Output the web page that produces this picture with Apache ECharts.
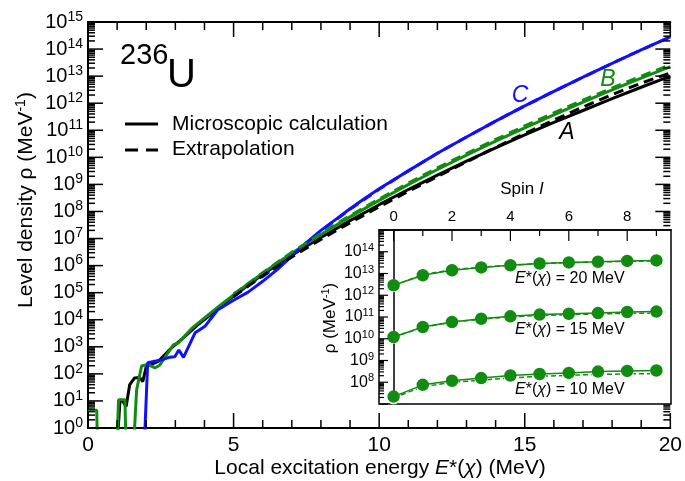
<!DOCTYPE html>
<html>
<head>
<meta charset="utf-8">
<script src="https://cdn.jsdelivr.net/npm/echarts@6/dist/echarts.min.js"></script>
<style>
  html, body { margin: 0; padding: 0; background: #fff; }
  #chart { width: 685px; height: 481px; }
</style>
</head>
<body>
<div id="chart"></div>
<script>
// main panel: log10 of level density vs local excitation energy (MeV)
const energyA = [0.98, 1.1, 1.2, 1.31, 1.43, 1.6, 1.77, 1.88, 2.0, 2.4, 2.86, 3.32, 3.77, 4.23, 4.5, 5, 5.5, 6, 6.5, 7, 7.5, 8, 9, 10, 11, 12, 13, 14, 15, 16, 17, 18, 19, 20]
const logRhoA = [-1, 1.04, 0.98, 0.79, 1.59, 1.85, 1.87, 1.71, 2.27, 2.45, 2.95, 3.38, 3.81, 4.2, 4.45, 4.87, 5.28, 5.67, 6.03, 6.38, 6.72, 7.04, 7.66, 8.25, 8.81, 9.34, 9.86, 10.35, 10.83, 11.29, 11.73, 12.17, 12.59, 13.0]
const energyAExtrap = [5, 6, 7, 8, 9, 10, 11, 12, 13, 14, 15, 16, 17, 18, 19, 20]
const logRhoAExtrap = [4.85, 5.63, 6.32, 6.97, 7.58, 8.17, 8.74, 9.29, 9.83, 10.37, 10.88, 11.38, 11.86, 12.32, 12.74, 13.12]

const energyB = [0, 0.3, 0.33, 0.98, 1.05, 1.27, 1.31, 1.55, 1.67, 1.84, 2.05, 2.3, 2.47, 2.93, 3.1, 3.56, 4.13, 4.5, 5, 5.5, 6, 6.5, 7, 7.5, 8, 9, 10, 11, 12, 13, 14, 15, 16, 17, 18, 19, 20]
const logRhoB = [0.66, 0.66, -1, -1, 1.04, 1.04, -1, -1, 1.41, 2.29, 2.35, 2.22, 2.33, 3.07, 3.14, 3.68, 4.18, 4.5, 4.92, 5.33, 5.72, 6.1, 6.46, 6.81, 7.15, 7.8, 8.41, 8.99, 9.55, 10.08, 10.6, 11.09, 11.57, 12.04, 12.49, 12.93, 13.35]
const energyBExtrap = [5, 6, 7, 8, 9, 10, 11, 12, 13, 14, 15, 16, 17, 18, 19, 20]
const logRhoBExtrap = [4.93, 5.74, 6.49, 7.19, 7.85, 8.46, 9.05, 9.61, 10.14, 10.66, 11.16, 11.64, 12.11, 12.56, 13.0, 13.42]

const energyC = [1.92, 2.05, 2.5, 2.79, 2.98, 3.12, 3.28, 3.68, 4.03, 4.45, 5, 5.5, 6, 6.5, 7, 7.5, 8, 8.5, 9, 9.5, 10, 11, 12, 13, 14, 15, 16, 17, 18, 19, 20]
const logRhoC = [-1, 2.41, 2.51, 2.61, 2.63, 2.88, 2.61, 3.52, 3.77, 4.36, 4.72, 5.02, 5.42, 5.85, 6.36, 6.85, 7.3, 7.7, 8.1, 8.48, 8.84, 9.5, 10.15, 10.75, 11.34, 11.9, 12.44, 12.96, 13.47, 13.97, 14.45]
const energyCExtrap = [5, 6, 7, 8, 9, 10, 11, 12, 13, 14, 15, 16, 17, 18, 19, 20]
const logRhoCExtrap = [4.95, 5.6, 6.38, 7.28, 8.08, 8.82, 9.5, 10.15, 10.75, 11.34, 11.9, 12.44, 12.96, 13.47, 13.97, 14.45]

// inset: log10 rho vs spin at fixed E*(chi)
const spin = [0, 1, 2, 3, 4, 5, 6, 7, 8, 9]
const logRho20 = [12.46, 12.92, 13.15, 13.28, 13.38, 13.46, 13.51, 13.54, 13.58, 13.6]
const logRho20Extrap = [12.44, 12.95, 13.17, 13.29, 13.38, 13.45, 13.5, 13.53, 13.56, 13.58]
const logRho15 = [10.08, 10.54, 10.77, 10.92, 11.03, 11.11, 11.15, 11.18, 11.23, 11.25]
const logRho15Extrap = [10.07, 10.53, 10.76, 10.9, 11.0, 11.07, 11.11, 11.14, 11.17, 11.18]
const logRho10 = [7.34, 7.88, 8.07, 8.19, 8.31, 8.38, 8.43, 8.49, 8.52, 8.54]
const logRho10Extrap = [7.28, 7.8, 7.99, 8.1, 8.2, 8.27, 8.32, 8.36, 8.38, 8.4]

// tick values
const mainDecades = [0, 1, 2, 3, 4, 5, 6, 7, 8, 9, 10, 11, 12, 13, 14, 15]
const insetDecades = [7, 8, 9, 10, 11, 12, 13, 14, 15]
const insetLabelDecades = [8, 9, 10, 11, 12, 13, 14]
const energyTicks = [0, 5, 10, 15, 20]
const energyMinor = [1, 2, 3, 4, 6, 7, 8, 9, 11, 12, 13, 14, 16, 17, 18, 19]
const spinLabels = [0, 2, 4, 6, 8]
const spinMinor = [1, 3, 5, 7, 9]

const FONT = 'Liberation Sans'
const GREEN = '#118c11'
const BLUE = '#1010ff'

const pow10 = d => Math.pow(10, d)
const minorOf = decs => {
  const out = []
  decs.slice(0, -1).forEach(d => { for (let m = 2; m <= 9; m++) out.push(m * pow10(d)) })
  return out
}
const pairs = (xs, ls) => xs.map((x, i) => [x, pow10(ls[i])])

const supLabel = (bSize, eSize, lift) => ({
  formatter: v => '{b|10}{e|' + Math.round(Math.log10(v)) + '}',
  rich: {
    b: { fontSize: bSize, fontFamily: FONT, color: '#000', lineHeight: bSize },
    e: { fontSize: eSize, fontFamily: FONT, color: '#000', padding: [0, 0, lift, 0] }
  }
})

const mainMajor = mainDecades.map(pow10)
const mainMinor = minorOf(mainDecades)
const insetMajor = insetDecades.map(pow10)
const insetMinor = minorOf(insetDecades)

const mainLine = (data, color, dashed) => ({
  type: 'line', xAxisIndex: 0, yAxisIndex: 0, data: data, showSymbol: false, symbol: 'none',
  clip: true, z: 2, animation: false,
  lineStyle: { color: color, width: 3, type: dashed ? [10, 6] : 'solid' }
})
const insetLine = (data, filled) => ({
  type: 'line', xAxisIndex: 2, yAxisIndex: 2, data: data, z: filled ? 7 : 6, animation: false,
  symbol: filled ? 'circle' : 'emptyCircle', symbolSize: 11, showSymbol: true,
  itemStyle: { color: filled ? GREEN : '#fff', borderColor: GREEN, borderWidth: 1.5 },
  lineStyle: { color: GREEN, width: 1.5, type: filled ? 'solid' : [5, 3] }
})

const txt = (x, y, text, size, extra) => ({
  type: 'text', x: x, y: y, z: 20,
  style: Object.assign({ text: text, fontSize: size, fontFamily: FONT, fill: '#000', align: 'left', verticalAlign: 'middle',
    rich: { i: { fontStyle: 'italic', fontSize: size, fontFamily: FONT }, s: { fontSize: Math.round(size * 0.65), fontFamily: FONT, padding: [0, 0, Math.round(size * 0.45), 0] } } }, extra || {})
})

const chart = echarts.init(document.getElementById('chart'))
chart.setOption({
  animation: false,
  backgroundColor: '#fff',
  grid: [
    { left: 88, right: 14, top: 22, bottom: 53 },
    { left: 379, right: 14, top: 230, bottom: 77, show: true, borderColor: '#000', borderWidth: 1.5, backgroundColor: '#fff', z: 3 }
  ],
  xAxis: [
    { type: 'value', gridIndex: 0, position: 'bottom', min: 0, max: 20, interval: 5,
      axisLine: { show: true, onZero: false, lineStyle: { color: '#000', width: 2 } }, axisTick: { show: false },
      axisLabel: { fontSize: 21, fontFamily: FONT, color: '#000', margin: 7 }, splitLine: { show: false } },
    { type: 'value', gridIndex: 0, position: 'top', min: 0, max: 20, interval: 5,
      axisLine: { show: true, onZero: false, lineStyle: { color: '#000', width: 2 } }, axisTick: { show: false },
      axisLabel: { show: false }, splitLine: { show: false } },
    { type: 'value', gridIndex: 1, position: 'top', min: -0.5, max: 9.5, z: 4,
      axisLine: { show: true, onZero: false, lineStyle: { color: '#000', width: 1.5 } }, axisTick: { show: false },
      axisLabel: { customValues: spinLabels, fontSize: 15, fontFamily: FONT, color: '#000', margin: 6 }, splitLine: { show: false } }
  ],
  yAxis: [
    { type: 'log', logBase: 10, gridIndex: 0, position: 'left', min: 0.9999, max: 1.0001e15,
      axisLine: { show: true, lineStyle: { color: '#000', width: 2 } }, axisTick: { show: false },
      axisLabel: Object.assign({ customValues: mainMajor, margin: 5, showMinLabel: true, showMaxLabel: true }, supLabel(20, 14, 10)),
      splitLine: { show: false } },
    { type: 'log', logBase: 10, gridIndex: 0, position: 'right', min: 0.9999, max: 1.0001e15,
      axisLine: { show: true, lineStyle: { color: '#000', width: 2 } }, axisTick: { show: false },
      axisLabel: { show: false }, splitLine: { show: false } },
    { type: 'log', logBase: 10, gridIndex: 1, position: 'left', min: 0.9999e7, max: 1.0001e15, z: 4,
      axisLine: { show: true, lineStyle: { color: '#000', width: 1.5 } }, axisTick: { show: false },
      axisLabel: Object.assign({ customValues: insetLabelDecades.map(pow10), margin: 5, showMinLabel: true, showMaxLabel: true }, supLabel(16, 11, 8)),
      splitLine: { show: false } }
  ],
  series: [
    mainLine(pairs(energyA, logRhoA), '#000', false),
    mainLine(pairs(energyB, logRhoB), GREEN, false),
    mainLine(pairs(energyC, logRhoC), BLUE, false),
    mainLine(pairs(energyCExtrap, logRhoCExtrap), BLUE, true),
    mainLine(pairs(energyBExtrap, logRhoBExtrap), GREEN, true),
    mainLine(pairs(energyAExtrap, logRhoAExtrap), '#000', true),
    insetLine(pairs(spin, logRho20Extrap), false),
    insetLine(pairs(spin, logRho15Extrap), false),
    insetLine(pairs(spin, logRho10Extrap), false),
    insetLine(pairs(spin, logRho20), true),
    insetLine(pairs(spin, logRho15), true),
    insetLine(pairs(spin, logRho10), true)
  ]
})

// inward ticks, each position taken from one axis scale at a time
const toX = (xi, v) => chart.convertToPixel({ xAxisIndex: xi }, v)
const toY = (yi, v) => chart.convertToPixel({ yAxisIndex: yi }, v)
const tickEls = []
const seg = (x1, y1, x2, y2, w, z) => {
  if (![x1, y1, x2, y2].every(isFinite)) return
  tickEls.push({ type: 'line', z: z, shape: { x1: x1, y1: y1, x2: x2, y2: y2 }, style: { stroke: '#000', lineWidth: w } })
}
const mainLeft = toX(0, 0), mainRight = toX(0, 20)
const mainBottom = toY(0, 0.9999), mainTop = toY(0, 1.0001e15)
const insetLeft = toX(2, -0.5), insetTop = toY(2, 1.0001e15), insetBottom = toY(2, 0.9999e7)

energyTicks.forEach(v => { const x = toX(0, v); seg(x, mainBottom, x, mainBottom - 15, 1.5, 15); seg(x, mainTop, x, mainTop + 15, 1.5, 15) })
energyMinor.forEach(v => { const x = toX(0, v); seg(x, mainBottom, x, mainBottom - 8, 1.5, 15); seg(x, mainTop, x, mainTop + 8, 1.5, 15) })
const yTick = (v, len) => {
  const y = toY(0, v)
  seg(mainLeft, y, mainLeft + len, y, 1.5, 15)
  // the inset covers the main right axis there
  if (!(y > insetTop - 1 && y < insetBottom + 1)) seg(mainRight, y, mainRight - len, y, 1.5, 15)
}
mainMajor.forEach(v => yTick(v, 15))
mainMinor.forEach(v => yTick(v, 7))
spinLabels.forEach(v => { const x = toX(2, v); seg(x, insetTop, x, insetTop + 11, 1.2, 16) })
spinMinor.forEach(v => { const x = toX(2, v); seg(x, insetTop, x, insetTop + 6, 1.2, 16) })
insetMajor.forEach(v => { const y = toY(2, v); seg(insetLeft, y, insetLeft + 9, y, 1.2, 16) })
insetMinor.forEach(v => { const y = toY(2, v); seg(insetLeft, y, insetLeft + 5, y, 1.2, 16) })

chart.setOption({
  graphic: [
    txt(120, 56, '236', 29),
    txt(167, 76, 'U', 40),
    { type: 'line', z: 20, shape: { x1: 125, y1: 124, x2: 158, y2: 124 }, style: { stroke: '#000', lineWidth: 3 } },
    { type: 'line', z: 20, shape: { x1: 125, y1: 150, x2: 158, y2: 150 }, style: { stroke: '#000', lineWidth: 3, lineDash: [13, 8] } },
    txt(172, 124, 'Microscopic calculation', 21),
    txt(172, 149, 'Extrapolation', 21),
    txt(520, 96, 'C', 23, { fill: BLUE, fontStyle: 'italic', align: 'center' }),
    txt(608, 80, 'B', 23, { fill: GREEN, fontStyle: 'italic', align: 'center' }),
    txt(567, 133, 'A', 23, { fill: '#000', fontStyle: 'italic', align: 'center' }),
    txt(522, 189, 'Spin {i|I}', 17, { align: 'center' }),
    txt(515, 279, '{i|E}*({i|χ}) = 20 MeV', 16),
    txt(515, 330, '{i|E}*({i|χ}) = 15 MeV', 16),
    txt(515, 390, '{i|E}*({i|χ}) = 10 MeV', 16),
    txt(380, 468, 'Local excitation energy {i|E}*({i|χ}) (MeV)', 21, { align: 'center' }),
    Object.assign(txt(26, 200, 'Level density ρ (MeV{s|-1})', 21, { align: 'center' }), { rotation: Math.PI / 2 }),
    Object.assign(txt(330, 318, 'ρ (MeV{s|-1})', 17, { align: 'center' }), { rotation: Math.PI / 2 })
  ].concat(tickEls)
})
</script>
</body>
</html>
